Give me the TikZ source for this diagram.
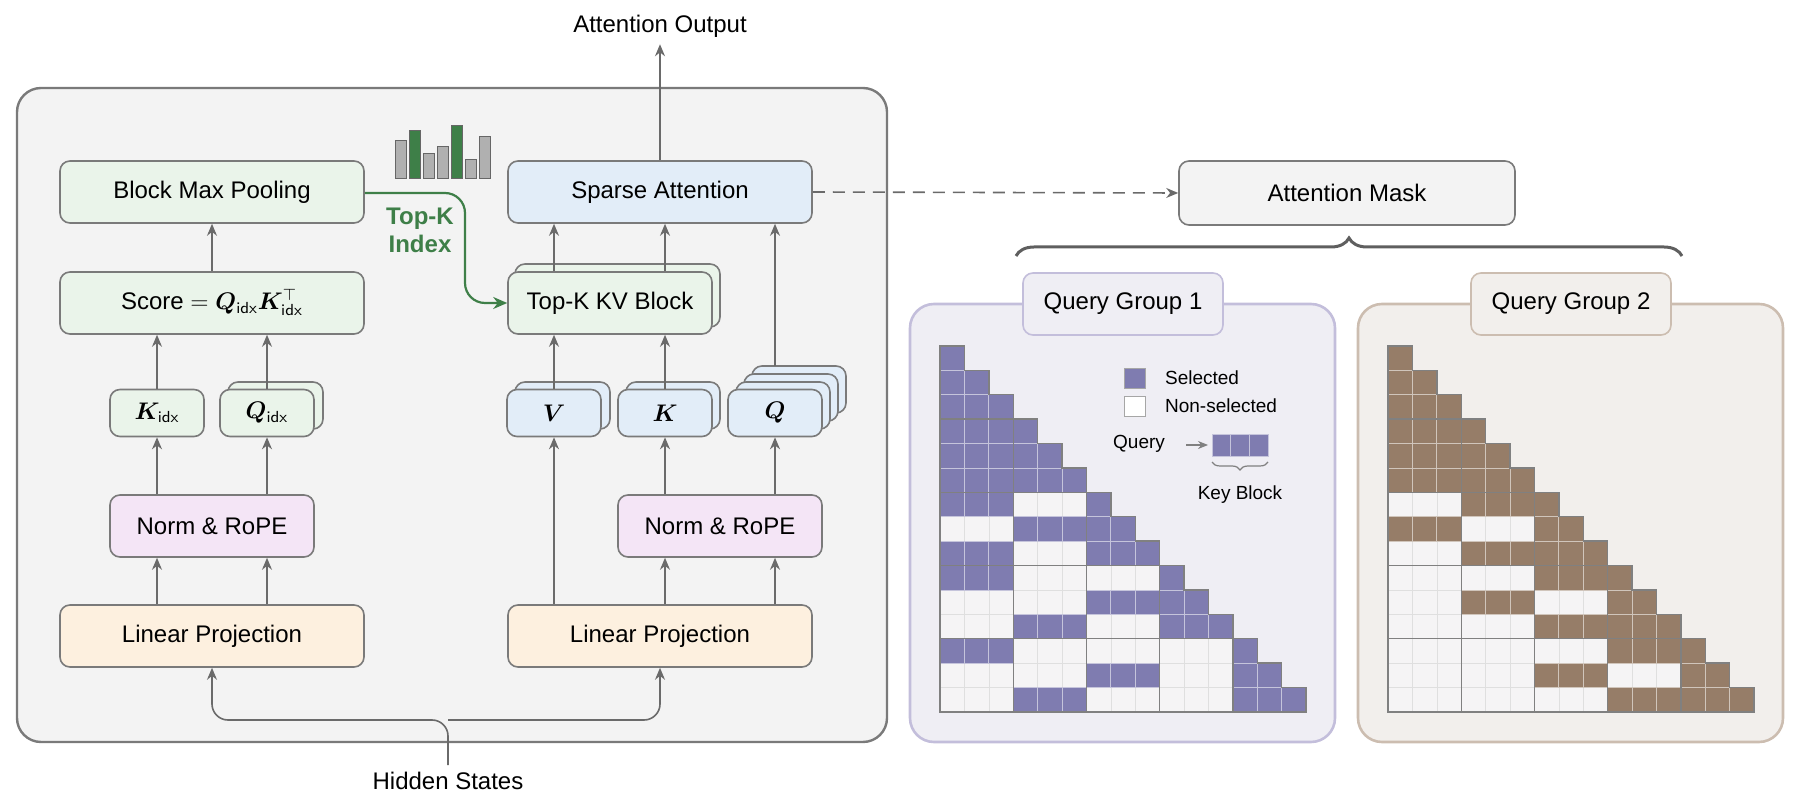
\documentclass[tikz,border=0pt]{standalone}
\usepackage{amsmath}
\usepackage{bm}
\usepackage{fontspec}
\setmainfont{Liberation Sans}
\usetikzlibrary{arrows.meta, decorations.pathreplacing}

\definecolor{panelgray}{HTML}{F3F3F3}
\definecolor{edgegray}{HTML}{7A7A7A}
\definecolor{arrowgray}{HTML}{6A6A6A}
\definecolor{greenfill}{HTML}{EAF4EA}
\definecolor{bluefill}{HTML}{E2EDF8}
\definecolor{pinkfill}{HTML}{F4E5F6}
\definecolor{orangefill}{HTML}{FDF0DF}
\definecolor{topkgreen}{HTML}{3E7F48}
\definecolor{barsgray}{HTML}{B0B0B0}
\definecolor{purplesel}{HTML}{7F7CB0}
\definecolor{purplebg}{HTML}{EFEEF4}
\definecolor{purpleedge}{HTML}{C3BEDB}
\definecolor{brownsel}{HTML}{967D68}
\definecolor{brownbg}{HTML}{F2EFEC}
\definecolor{brownedge}{HTML}{CCBDB0}
\definecolor{cellfree}{HTML}{F5F4F5}

\tikzset{
    blockbox/.style={draw=edgegray, line width=0.8pt, rounded corners=5pt,
        font=\fontsize{12}{14}\selectfont},
    greenbox/.style={blockbox, fill=greenfill},
    bluebox/.style={blockbox, fill=bluefill},
    pinkbox/.style={blockbox, fill=pinkfill},
    orangebox/.style={blockbox, fill=orangefill},
    flow/.style={-{Stealth[length=6pt, width=5pt]}, draw=arrowgray, line width=0.8pt},
    label/.style={font=\fontsize{12}{14}\selectfont},
    legendtext/.style={font=\fontsize{9.5}{11}\selectfont, anchor=west},
}

% one stacked block: \stackbox{style}{x1}{y1}{x2}{y2}{copies behind}
\newcommand{\stackbox}[6]{
    \foreach \k in {#6,...,1}{
        \draw[#1] (#2+8*\k,#3-8*\k) rectangle (#4+8*\k,#5-8*\k);
    }
}

% mask grid: \maskgrid{x0}{y0}{colour}{row/block list}
\newcommand{\maskgrid}[4]{
    \begin{scope}[shift={(#1,#2)}, x=12.2pt, y=-12.2pt]
        \foreach \r in {0,...,14}{
            \foreach \c in {0,...,\r}{
                \fill[cellfree, draw=gray!25, line width=0.3pt] (\c,\r) rectangle ++(1,1);
            }
        }
        \foreach \r in {0,...,14}{
            \pgfmathtruncatemacro\first{floor(\r/3)*3}
            \foreach \c in {\first,...,\r}{
                \fill[#3, draw=white!55!#3, line width=0.4pt] (\c,\r) rectangle ++(1,1);
            }
        }
        \foreach \r/\b in {#4}{
            \foreach \c in {0,1,2}{
                \fill[#3, draw=white!55!#3, line width=0.4pt] (3*\b+\c,\r) rectangle ++(1,1);
            }
        }
        \foreach \i in {1,...,4}{
            \foreach \j in {1,...,\i}{
                \draw[gray, line width=0.7pt] (3*\j-3,3*\i) rectangle ++(3,3);
            }
        }
        \foreach \i in {0,...,4}{
            \draw[gray, line width=0.7pt] (3*\i,3*\i) -- ++(1,0) -- ++(0,1) -- ++(1,0)
                -- ++(0,1) -- ++(1,0) -- ++(0,1) -- ++(-3,0) -- cycle;
        }
    \end{scope}
}

\begin{document}
\begin{tikzpicture}[x=0.5pt, y=-0.5pt]
    \useasboundingbox (0,0) rectangle (1800,806);

    % left panel
    \draw[fill=panelgray, draw=edgegray, line width=1.2pt, rounded corners=12pt]
        (17,88) rectangle (887,742);

    % histogram
    \foreach \x/\top/\col in {395/141/barsgray, 409/131/topkgreen, 423/154/barsgray,
        437/147/barsgray, 451/126/topkgreen, 465/160/barsgray, 479/137/barsgray}{
        \draw[fill=\col, draw=gray!80!black, line width=0.5pt] (\x,\top) rectangle (\x+11,179);
    }

    % stacked copies
    \stackbox{greenbox}{220}{390}{315}{437}{1}
    \stackbox{greenbox}{507}{272}{712}{335}{1}
    \stackbox{bluebox}{507}{390}{602}{437}{1}
    \stackbox{bluebox}{618}{390}{712}{437}{1}
    \stackbox{bluebox}{728}{390}{822}{437}{3}

    % boxes
    \node[greenbox, minimum width=152pt, minimum height=31pt] (pool) at (212,192) {Block Max Pooling};
    \node[bluebox, minimum width=152pt, minimum height=31pt] (sparse) at (660,192) {Sparse Attention};
    \node[greenbox, minimum width=152pt, minimum height=31pt] (score) at (212,303)
        {Score $=\bm{Q}_{\mathsf{idx}}\bm{K}_{\mathsf{idx}}^{\top}$};
    \node[greenbox, minimum width=102pt, minimum height=31pt] (topkv) at (610,303) {Top-K KV Block};
    \node[greenbox, minimum width=47pt, minimum height=23.5pt] (kidx) at (157,413) {$\bm{K}_{\mathsf{idx}}$};
    \node[greenbox, minimum width=47pt, minimum height=23.5pt] (qidx) at (267,413) {$\bm{Q}_{\mathsf{idx}}$};
    \node[bluebox, minimum width=47pt, minimum height=23.5pt] (vv) at (554,413) {$\bm{V}$};
    \node[bluebox, minimum width=47pt, minimum height=23.5pt] (kk) at (665,413) {$\bm{K}$};
    \node[bluebox, minimum width=47pt, minimum height=23.5pt] (qq) at (775,413) {$\bm{Q}$};
    \node[pinkbox, minimum width=102pt, minimum height=31pt] (normL) at (212,526) {Norm \& RoPE};
    \node[pinkbox, minimum width=102pt, minimum height=31pt] (normR) at (720,526) {Norm \& RoPE};
    \node[orangebox, minimum width=152pt, minimum height=31pt] (linL) at (212,636) {Linear Projection};
    \node[orangebox, minimum width=152pt, minimum height=31pt] (linR) at (660,636) {Linear Projection};

    \node[label] (out) at (660,26) {Attention Output};
    \node[label] (hidden) at (448,781) {Hidden States};

    % left column
    \draw[flow] (linL.north -| kidx) -- (normL.south -| kidx);
    \draw[flow] (linL.north -| qidx) -- (normL.south -| qidx);
    \draw[flow] (normL.north -| kidx) -- (kidx.south);
    \draw[flow] (normL.north -| qidx) -- (qidx.south);
    \draw[flow] (kidx.north) -- (score.south -| kidx);
    \draw[flow] (qidx.north) -- (score.south -| qidx);
    \draw[flow] (score.north) -- (pool.south);

    % right column
    \draw[flow] (linR.north -| vv) -- (vv.south);
    \draw[flow] (linR.north -| kk) -- (normR.south -| kk);
    \draw[flow] (linR.north -| qq) -- (normR.south -| qq);
    \draw[flow] (normR.north -| kk) -- (kk.south);
    \draw[flow] (normR.north -| qq) -- (qq.south);
    \draw[flow] (vv.north) -- (topkv.south -| vv);
    \draw[flow] (kk.north) -- (topkv.south -| kk);
    \draw[flow] (topkv.north -| vv) -- (sparse.south -| vv);
    \draw[flow] (topkv.north -| kk) -- (sparse.south -| kk);
    \draw[flow] (qq.north |- 0,366) -- (sparse.south -| qq);
    \draw[flow] (sparse.north) -- (out.south);

    % hidden states
    \coordinate (split) at (448,720);
    \draw[flow, rounded corners=8pt] (hidden.north) -- (split) -| (linL.south);
    \draw[flow, rounded corners=8pt] (split) -| (linR.south);

    % top-k index
    \draw[-{Stealth[length=7pt, width=6pt]}, draw=topkgreen, line width=1.1pt, rounded corners=10pt]
        (pool.east |- 0,193) -| (465,250) |- (topkv.west |- 0,303);
    \node[font=\fontsize{12}{14}\selectfont\bfseries, text=topkgreen, align=center] (topkidx)
        at (420,230) {Top-K\\Index};

    % attention mask
    \node[blockbox, fill=panelgray, minimum width=168pt, minimum height=32pt] (mask) at (1347,193) {Attention Mask};
    \draw[flow, dashed, dash pattern=on 6pt off 4pt] (sparse.east) -- (mask.west);
    \draw[decorate, decoration={brace, amplitude=9pt}, draw=arrowgray!90!black, line width=1.5pt]
        (1016,256) -- (1682,256);

    % query groups
    \draw[fill=purplebg, draw=purpleedge, line width=1.3pt, rounded corners=12pt]
        (910,304) rectangle (1335,742);
    \draw[fill=brownbg, draw=brownedge, line width=1.3pt, rounded corners=12pt]
        (1358,304) rectangle (1783,742);
    \node[blockbox, fill=purplebg, draw=purpleedge, minimum width=100pt, minimum height=31pt]
        (group1) at (1123,304) {Query Group 1};
    \node[blockbox, fill=brownbg, draw=brownedge, minimum width=100pt, minimum height=31pt]
        (group2) at (1571,304) {Query Group 2};

    \maskgrid{940}{346}{purplesel}{3/0,4/0,5/0,6/0,7/1,8/0,9/0,10/2,11/1,12/0,13/2,14/1}
    \maskgrid{1388}{346}{brownsel}{3/0,4/0,5/0,6/1,7/0,8/1,9/2,10/1,11/2,12/3,13/2,14/3}

    % legend
    \draw[fill=purplesel, draw=gray!70] (1124,368) rectangle (1145,388);
    \draw[fill=white, draw=gray!70] (1124,396) rectangle (1145,416);
    \node[legendtext] (sel) at (1158,378) {Selected};
    \node[legendtext] (nonsel) at (1158,406) {Non-selected};
    \node[legendtext, anchor=east] (query) at (1172,444) {Query};
    \foreach \c in {0,1,2}{
        \draw[fill=purplesel, draw=white!55!purplesel] (1212+18.7*\c,434) rectangle ++(18.7,22);
    }
    \coordinate (keyblk) at (1208,445);
    \coordinate (qtail) at (1186,445);
    \draw[-{Stealth[length=5pt, width=4pt]}, draw=gray, line width=0.6pt] (qtail) -- (keyblk);
    \draw[decorate, decoration={brace, amplitude=4pt, mirror}, draw=gray, line width=0.6pt]
        (1212,462) -- (1268,462);
    \node[legendtext, anchor=center] (keytext) at (1240,495) {Key Block};
\end{tikzpicture}
\end{document}
